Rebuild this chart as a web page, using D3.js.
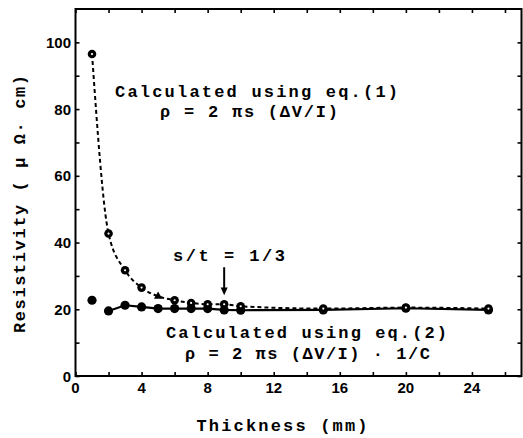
<!DOCTYPE html>
<html><head><meta charset="utf-8">
<script src="https://cdn.jsdelivr.net/npm/d3@7"></script>
<style>body{margin:0;background:#fff}svg{display:block}</style>
</head><body>
<svg id="c" width="523" height="438"></svg>
<script>
// ---- data ----
const thickness = [1, 2, 3, 4, 5, 6, 7, 8, 9, 10, 15, 20, 25];
const eq1Values = [96.5, 42.7, 31.7, 26.5, 23.9, 22.7, 21.9, 21.5, 21.5, 20.9, 20.2, 20.5, 20.2];
const eq1Markers = ["ring","ring","ring","ring","triangle","ring","ring","ring","ring","ring","ring","ring","ring"];
const eq2Values = [22.7, 19.5, 21.2, 20.7, 20.2, 20.2, 20.2, 20.2, 19.8, 19.7, 19.8, 20.3, 19.8];
const eq2LineStart = 2; // line for eq.(2) begins at thickness 2
const xTicks = [0, 2, 4, 6, 8, 10, 12, 14, 16, 18, 20, 22, 24, 26];
const xTickLabels = [0, 4, 8, 12, 16, 20, 24];
const yTicks = [0, 10, 20, 30, 40, 50, 60, 70, 80, 90, 100];
const yTickLabels = [0, 20, 40, 60, 80, 100];

// ---- layout ----
const L = 75.5, R = 521.5, T = 9, B = 376;
const x = d3.scaleLinear().domain([0, 27]).range([L, R]);
const y = d3.scaleLinear().domain([0, 110]).range([B, T]);
const svg = d3.select("#c");
const mono = "'Liberation Mono','DejaVu Sans Mono',monospace";
const sans = "'Liberation Sans',Arial,sans-serif";

// frame
svg.append("rect").attr("x", L).attr("y", T).attr("width", R - L).attr("height", B - T)
  .attr("fill", "none").attr("stroke", "#000").attr("stroke-width", 2);

// inward ticks via axes
const tk = 4;
svg.append("g").attr("transform", `translate(0,${B})`)
  .call(d3.axisBottom(x).tickValues(xTicks).tickSize(-tk).tickFormat(""))
  .call(g => g.select(".domain").remove());
svg.append("g").attr("transform", `translate(0,${T})`)
  .call(d3.axisTop(x).tickValues(xTicks).tickSize(-tk).tickFormat(""))
  .call(g => g.select(".domain").remove());
svg.append("g").attr("transform", `translate(${L},0)`)
  .call(d3.axisLeft(y).tickValues(yTicks).tickSize(-tk).tickFormat(""))
  .call(g => g.select(".domain").remove());
svg.append("g").attr("transform", `translate(${R},0)`)
  .call(d3.axisRight(y).tickValues(yTicks).tickSize(-tk).tickFormat(""))
  .call(g => g.select(".domain").remove());
svg.selectAll(".tick line").attr("stroke", "#000").attr("stroke-width", 1.6);

// tick labels
svg.append("g").selectAll("text").data(xTickLabels).join("text")
  .attr("x", d => x(d)).attr("y", 393).attr("text-anchor", "middle")
  .attr("font-family", sans).attr("font-weight", "bold").attr("font-size", 15)
  .text(d => d);
svg.append("g").selectAll("text").data(yTickLabels).join("text")
  .attr("x", 71).attr("y", d => y(d) + 5.5).attr("text-anchor", "end")
  .attr("font-family", sans).attr("font-weight", "bold").attr("font-size", 15)
  .text(d => d);

// axis titles
svg.append("text").attr("x", 282).attr("y", 431).attr("text-anchor", "middle")
  .attr("font-family", mono).attr("font-weight", "bold").attr("font-size", 17)
  .attr("textLength", 171).attr("lengthAdjust", "spacing")
  .text("Thickness (mm)");
svg.append("text").attr("transform", "translate(25,204) rotate(-90)").attr("text-anchor", "middle")
  .attr("font-family", mono).attr("font-weight", "bold").attr("font-size", 17)
  .attr("textLength", 258).attr("lengthAdjust", "spacing")
  .text("Resistivity ( μ Ω· cm)");

// lines
const pts1 = thickness.map((t, i) => [t, eq1Values[i]]);
const pts2 = thickness.map((t, i) => [t, eq2Values[i]]).filter(p => p[0] >= eq2LineStart);
const line = d3.line().x(d => x(d[0])).y(d => y(d[1])).curve(d3.curveMonotoneX);
const line2 = d3.line().x(d => x(d[0])).y(d => y(d[1]));
svg.append("path").attr("d", line2(pts2)).attr("fill", "none").attr("stroke", "#000").attr("stroke-width", 2.2);
svg.append("path").attr("d", line(pts1)).attr("fill", "none").attr("stroke", "#000")
  .attr("stroke-width", 2).attr("stroke-dasharray", "4,3");

// markers eq.(2) filled
svg.append("g").selectAll("circle").data(thickness.map((t, i) => [t, eq2Values[i]])).join("circle")
  .attr("cx", d => x(d[0])).attr("cy", d => y(d[1])).attr("r", 4.6).attr("fill", "#000");

// markers eq.(1)
const g1 = svg.append("g");
thickness.forEach((t, i) => {
  const cx = x(t), cy = y(eq1Values[i]);
  if (eq1Markers[i] === "triangle") {
    g1.append("path").attr("transform", `translate(${cx},${cy})`)
      .attr("d", d3.symbol(d3.symbolTriangle, 30)()).attr("fill", "#000");
  } else {
    g1.append("circle").attr("cx", cx).attr("cy", cy).attr("r", 4.3).attr("fill", "#000");
    g1.append("circle").attr("cx", cx).attr("cy", cy).attr("r", 1.1).attr("fill", "#fff");
  }
});

// annotations
function ann(txt, px, py, len) {
  svg.append("text").attr("x", px).attr("y", py)
    .attr("font-family", mono).attr("font-weight", "bold").attr("font-size", 17)
    .attr("textLength", len).attr("lengthAdjust", "spacing").text(txt);
}
ann("Calculated using eq.(1)", 115, 97, 283);
ann("ρ = 2 πs (ΔV/I)", 160, 117, 178);
ann("s/t = 1/3", 173, 261, 112);
ann("Calculated using eq.(2)", 166, 338, 281);
ann("ρ = 2 πs (ΔV/I) · 1/C", 185, 359, 245);

// arrow
const ax = x(9);
svg.append("line").attr("x1", ax).attr("x2", ax).attr("y1", y(32.6)).attr("y2", y(25.5))
  .attr("stroke", "#000").attr("stroke-width", 2);
svg.append("path").attr("d", `M${ax - 3.5},${y(26.5)} L${ax + 3.5},${y(26.5)} L${ax},${y(24.2)} Z`).attr("fill", "#000");
</script>
</body></html>
